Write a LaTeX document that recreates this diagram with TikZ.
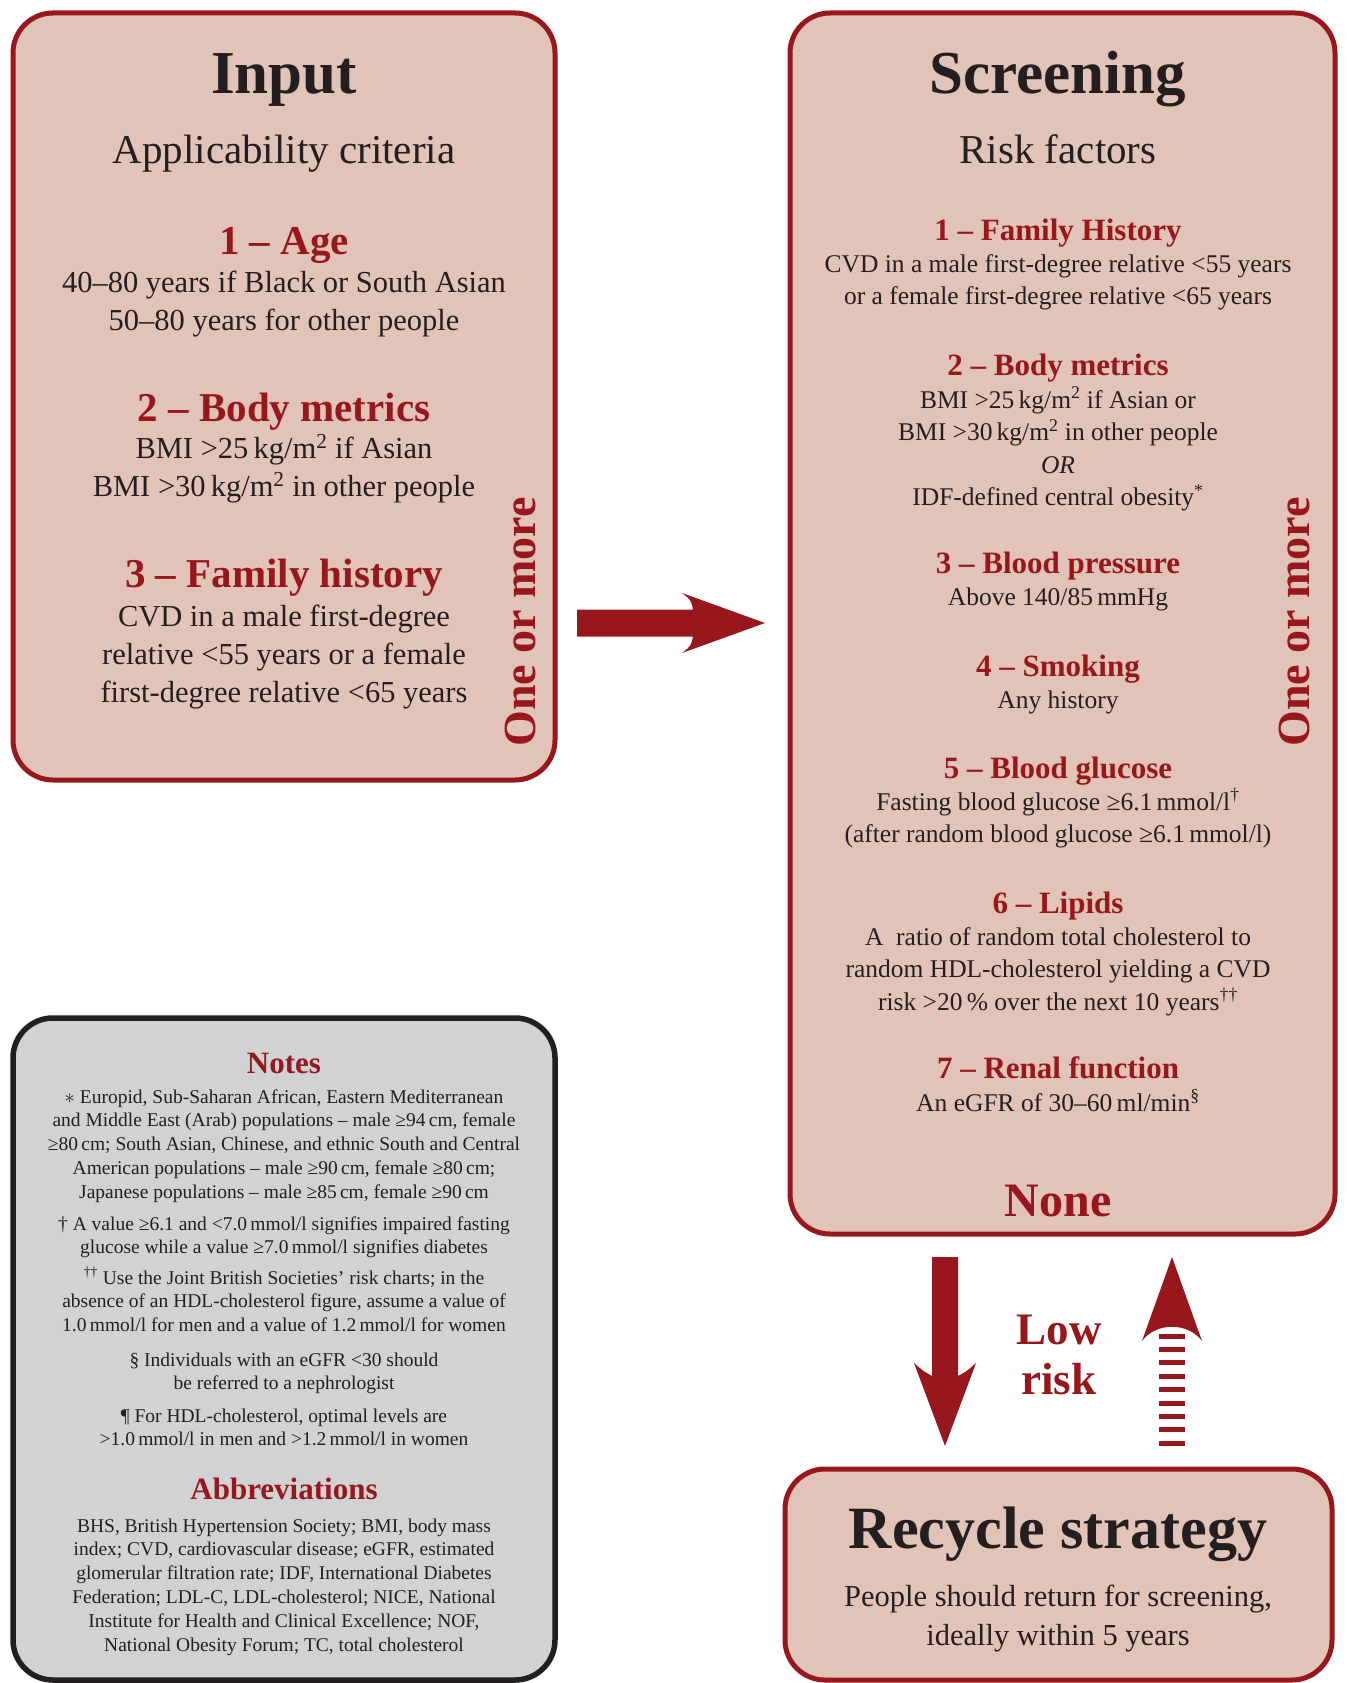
\documentclass[tikz,border=0pt]{standalone}
\usepackage{fontspec}
\setmainfont{Liberation Serif}
\usetikzlibrary{calc}
\definecolor{dred}{RGB}{152,23,28}
\definecolor{boxpink}{RGB}{226,195,184}
\definecolor{notegray}{RGB}{209,210,212}
\definecolor{ink}{RGB}{35,31,32}
\begin{document}
\begin{tikzpicture}[x=1pt,y=-1pt,
  redbox/.style={draw=dred,fill=boxpink,line width=5pt,rounded corners=40pt,inner sep=0pt},
  graybox/.style={draw=ink,fill=notegray,line width=5.5pt,rounded corners=40pt,inner sep=0pt},
  txt/.style={anchor=base,align=center,inner sep=0pt,text=ink},
  bigtitle/.style={txt,font=\fontsize{61}{70}\selectfont\bfseries},
  subtitle/.style={txt,font=\fontsize{41}{48}\selectfont},
  hdrA/.style={txt,text=dred,font=\fontsize{41}{48}\selectfont\bfseries},
  bodyA/.style={txt,font=\fontsize{30.5}{38}\selectfont},
  hdrB/.style={txt,text=dred,font=\fontsize{31}{36}\selectfont\bfseries},
  bodyB/.style={txt,font=\fontsize{25.5}{32.5}\selectfont},
  notehdr/.style={txt,text=dred,font=\fontsize{31}{36}\selectfont\bfseries},
  notetxt/.style={txt,font=\fontsize{19.5}{23.8}\selectfont},
  vert/.style={anchor=base,inner sep=0pt,rotate=90,text=dred,font=\fontsize{46}{50}\selectfont\bfseries}
]
\useasboundingbox (0,0) rectangle (1346,1683);

% boxes
\node[redbox,minimum width=542pt,minimum height=767pt] (inbox) at (284,396.5) {};
\node[redbox,minimum width=545pt,minimum height=1221pt] (scrbox) at (1062.5,623.5) {};
\node[graybox,minimum width=542pt,minimum height=662pt] (notebox) at (284,1349) {};
\node[redbox,minimum width=547pt,minimum height=211pt] (recbox) at (1058.5,1574.5) {};

% (multi-line nodes are placed at the baseline of their last line)
% ---------- Input box ----------
\node[bigtitle] (intitle) at (284,94) {Input};
\node[subtitle] (insub) at (284,163) {Applicability criteria};
\node[hdrA] (inh1) at (284,254) {1 – Age};
\node[bodyA] (inb1) at (284,330) {40–80 years if Black or South Asian\\50–80 years for other people};
\node[hdrA] (inh2) at (284,421) {2 – Body metrics};
\node[bodyA] (inb2) at (284,496) {BMI >25\,kg/m\textsuperscript{2} if Asian\\BMI >30\,kg/m\textsuperscript{2} in other people};
\node[hdrA] (inh3) at (284,587) {3 – Family history};
\node[bodyA] (inb3) at (284,702) {CVD in a male first-degree\\relative <55 years or a female\\first-degree relative <65 years};
\node[vert] (inmore) at (535,622) {One or more};

% ---------- Screening box ----------
\node[bigtitle] (scrtitle) at (1058,94) {Screening};
\node[subtitle] (scrsub) at (1058,163) {Risk factors};
\node[hdrB] (sh1) at (1058,240) {1 – Family History};
\node[bodyB] (sb1) at (1058,304.5) {CVD in a male first-degree relative <55 years\\or a female first-degree relative <65 years};
\node[hdrB] (sh2) at (1058,375) {2 – Body metrics};
\node[bodyB] (sb2) at (1058,505.5) {BMI >25\,kg/m\textsuperscript{2} if Asian or\\BMI >30\,kg/m\textsuperscript{2} in other people\\\textit{OR}\\IDF-defined central obesity\textsuperscript{*}};
\node[hdrB] (sh3) at (1058,573) {3 – Blood pressure};
\node[bodyB] (sb3) at (1058,605) {Above 140/85\,mmHg};
\node[hdrB] (sh4) at (1058,676) {4 – Smoking};
\node[bodyB] (sb4) at (1058,708) {Any history};
\node[hdrB] (sh5) at (1058,778) {5 – Blood glucose};
\node[bodyB] (sb5) at (1058,842.5) {Fasting blood glucose ≥6.1\,mmol/l\textsuperscript{†}\\(after random blood glucose ≥6.1\,mmol/l)};
\node[hdrB] (sh6) at (1058,913) {6 – Lipids};
\node[bodyB] (sb6) at (1058,1010) {A\ \ ratio of random total cholesterol to\\random HDL-cholesterol yielding a CVD\\risk >20\,\% over the next 10 years\textsuperscript{††}};
\node[hdrB] (sh7) at (1058,1078) {7 – Renal function};
\node[bodyB] (sb7) at (1058,1111) {An eGFR of 30–60\,ml/min\textsuperscript{§}};
\node[txt,text=dred,font=\fontsize{48}{54}\selectfont\bfseries] (none) at (1058,1216) {None};
\node[vert] (scrmore) at (1309,622) {One or more};

% ---------- Notes box ----------
\node[notehdr] (nhdr) at (284,1073) {Notes};
\node[notetxt] (n1) at (284,1198.2) {$\ast$ Europid, Sub-Saharan African, Eastern Mediterranean\\and Middle East (Arab) populations – male ≥94\,cm, female\\≥80\,cm; South Asian, Chinese, and ethnic South and Central\\American populations – male ≥90\,cm, female ≥80\,cm;\\Japanese populations – male ≥85\,cm, female ≥90\,cm};
\node[notetxt] (n2) at (284,1253.8) {† A value ≥6.1 and <7.0\,mmol/l signifies impaired fasting\\glucose while a value ≥7.0\,mmol/l signifies diabetes};
\node[notetxt] (n3) at (284,1331.6) {\textsuperscript{††} Use the Joint British Societies’ risk charts; in the\\absence of an HDL-cholesterol figure, assume a value of\\1.0\,mmol/l for men and a value of 1.2\,mmol/l for women};
\node[notetxt] (n4) at (284,1389.8) {§ Individuals with an eGFR <30 should\\be referred to a nephrologist};
\node[notetxt] (n5) at (284,1445.8) {¶ For HDL-cholesterol, optimal levels are\\>1.0\,mmol/l in men and >1.2\,mmol/l in women};
\node[notehdr] (ahdr) at (284,1499) {Abbreviations};
\node[notetxt] (abb) at (284,1651) {BHS, British Hypertension Society; BMI, body mass\\index; CVD, cardiovascular disease; eGFR, estimated\\glomerular filtration rate; IDF, International Diabetes\\Federation; LDL-C, LDL-cholesterol; NICE, National\\Institute for Health and Clinical Excellence; NOF,\\National Obesity Forum; TC, total cholesterol};

% ---------- Recycle box ----------
\node[txt,font=\fontsize{60}{68}\selectfont\bfseries] (rectitle) at (1058,1548) {Recycle strategy};
\node[bodyA,font=\fontsize{30.5}{39}\selectfont] (recbody) at (1058,1645) {People should return for screening,\\ideally within 5 years};

% ---------- Low risk ----------
\node[txt,text=dred,font=\fontsize{45}{50}\selectfont\bfseries] (lowrisk) at (1059,1394) {Low\\risk};

% ---------- arrows ----------
% right arrow: input -> screening
\coordinate (ra0) at (577,623);
\coordinate (ra1) at (765,623);
\fill[dred] ($(ra0)+(0,-13.5)$) -- (693,609.5) .. controls (691,600) .. (682,593) -- (ra1)
  -- (682,653) .. controls (691,646) .. (693,636.5) -- ($(ra0)+(0,13.5)$) -- cycle;
% down arrow: screening -> recycle
\coordinate (da0) at (945,1257);
\coordinate (da1) at (945,1446);
\fill[dred] (932,1257) -- (958,1257) -- (958,1376) .. controls (967,1371) .. (976,1363) -- (da1)
  -- (914,1363) .. controls (923,1371) .. (932,1376) -- cycle;
% up dashed arrow: recycle -> screening
\coordinate (ua0) at (1172,1449);
\coordinate (ua1) at (1172,1257);
\fill[dred] (ua1) -- (1202,1341) .. controls (1188,1322) and (1156,1322) .. (1142,1341) -- cycle;
\foreach \k in {0,...,8}
  \fill[dred] (1159,1333.5+\k*13.4) rectangle (1185,1338.5+\k*13.4);
\end{tikzpicture}
\end{document}
